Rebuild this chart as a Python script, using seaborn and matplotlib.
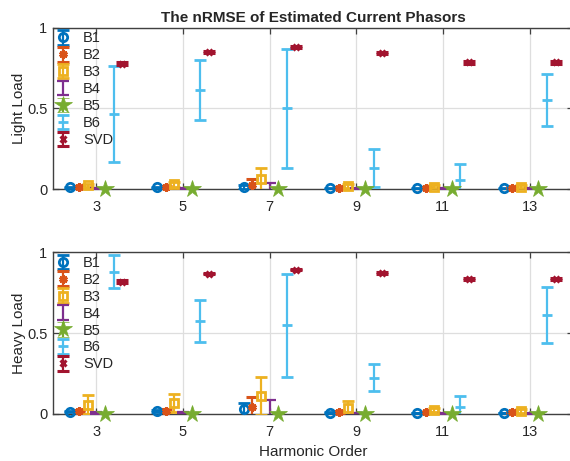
import numpy as np
import matplotlib
matplotlib.use('Agg')
import matplotlib.pyplot as plt
import seaborn as sns

harmonics = [3, 5, 7, 9, 11, 13]
methods = ['B1', 'B2', 'B3', 'B4', 'B5', 'B6', 'SVD']

# rows follow `methods`, columns follow `harmonics`
light_mean = [
    [0.010, 0.010, 0.012, 0.005, 0.005, 0.005],
    [0.012, 0.012, 0.025, 0.008, 0.008, 0.008],
    [0.022, 0.028, 0.060, 0.018, 0.015, 0.014],
    [0.004, 0.004, 0.010, 0.004, 0.003, 0.003],
    [0.002, 0.002, 0.002, 0.002, 0.002, 0.002],
    [0.465, 0.613, 0.500, 0.132, 0.054, 0.553],
    [0.776, 0.851, 0.880, 0.845, 0.785, 0.785],
]
light_std = [
    [0.005, 0.005, 0.010, 0.003, 0.003, 0.003],
    [0.006, 0.006, 0.040, 0.004, 0.004, 0.004],
    [0.012, 0.015, 0.070, 0.010, 0.008, 0.008],
    [0.003, 0.003, 0.027, 0.003, 0.002, 0.002],
    [0.001, 0.001, 0.001, 0.001, 0.001, 0.001],
    [0.295, 0.188, 0.367, 0.117, 0.100, 0.161],
    [0.010, 0.005, 0.006, 0.006, 0.008, 0.008],
]
heavy_mean = [
    [0.015, 0.018, 0.030, 0.008, 0.006, 0.006],
    [0.018, 0.020, 0.046, 0.012, 0.010, 0.010],
    [0.057, 0.067, 0.113, 0.035, 0.025, 0.020],
    [0.006, 0.008, 0.012, 0.006, 0.004, 0.004],
    [0.002, 0.002, 0.002, 0.002, 0.002, 0.002],
    [0.879, 0.576, 0.548, 0.225, 0.042, 0.614],
    [0.818, 0.867, 0.892, 0.873, 0.833, 0.833],
]
heavy_std = [
    [0.005, 0.005, 0.040, 0.004, 0.003, 0.003],
    [0.008, 0.008, 0.058, 0.005, 0.005, 0.005],
    [0.060, 0.055, 0.118, 0.045, 0.015, 0.012],
    [0.004, 0.005, 0.073, 0.003, 0.003, 0.003],
    [0.001, 0.001, 0.001, 0.001, 0.001, 0.001],
    [0.103, 0.130, 0.318, 0.085, 0.072, 0.173],
    [0.008, 0.005, 0.005, 0.005, 0.006, 0.006],
]

offsets = [-0.6, -0.4, -0.2, 0.0, 0.2, 0.4, 0.6]
styles = {
    'B1': dict(color='#0072BD', marker='o', ms=6, mfc='none', mew=2),
    'B2': dict(color='#D95319', marker=(6, 2, 0), ms=6, mew=2.2),
    'B3': dict(color='#EDB120', marker='s', ms=5.5, mfc='none', mew=2),
    'B4': dict(color='#7E2F8E', marker='none'),
    'B5': dict(color='#77AC30', marker='*', ms=13, mew=0.5),
    'B6': dict(color='#4DBEEE', marker='_', ms=7, mew=2),
    'SVD': dict(color='#A2142F', marker='x', ms=4, mew=2.2),
}

sns.set_theme(style='whitegrid')
plt.rcParams['font.family'] = ['Liberation Sans', 'DejaVu Sans']

fig = plt.figure(figsize=(5.7, 4.61), dpi=100)
ax_top = fig.add_axes([0.093, 0.590, 0.912, 0.350])
ax_bot = fig.add_axes([0.093, 0.102, 0.912, 0.351])


def draw_panel(ax, means, stds, ylabel):
    x = np.array(harmonics, dtype=float)
    for k, name in enumerate(methods):
        st = dict(styles[name])
        color = st.pop('color')
        cont = ax.errorbar(x + offsets[k], means[k], yerr=stds[k], linestyle='none',
                           color=color, ecolor=color, elinewidth=1.6, capsize=4,
                           capthick=1.6, label=name, zorder=3, **st)
        cont[0].set_clip_on(False)
    ax.set_xlim(2, 14)
    ax.set_ylim(0, 1)
    ax.set_xticks(harmonics)
    ax.set_xticklabels([str(h) for h in harmonics])
    ax.set_yticks([0, 0.5, 1])
    ax.set_yticklabels(['0', '0.5', '1'])
    ax.set_ylabel(ylabel, fontsize=11, color='#262626', labelpad=1)
    ax.grid(True, color='#dedede', linewidth=0.9)
    ax.set_axisbelow(True)
    for side in ['left', 'bottom', 'top', 'right']:
        ax.spines[side].set_color('#404040')
        ax.spines[side].set_linewidth(1.0)
    ax.tick_params(direction='in', length=4, width=0.9, color='#404040',
                   labelsize=10.5, labelcolor='#262626', top=True, right=True,
                   left=True, bottom=True, pad=4)
    ax.tick_params(axis='x', pad=8)
    leg = ax.legend(loc='upper left', bbox_to_anchor=(-0.015, 1.04), frameon=False,
                    fontsize=10.5, handlelength=1.0, handletextpad=0.9,
                    labelspacing=0.2, borderpad=0.2)
    for t in leg.get_texts():
        t.set_color('#262626')


draw_panel(ax_top, light_mean, light_std, 'Light Load')
draw_panel(ax_bot, heavy_mean, heavy_std, 'Heavy Load')
ax_top.set_title('The nRMSE of Estimated Current Phasors', fontsize=11,
                 fontweight='bold', pad=4)
ax_bot.set_xlabel('Harmonic Order', fontsize=11, color='#262626', labelpad=4)

fig.savefig('out.png', dpi=100)
